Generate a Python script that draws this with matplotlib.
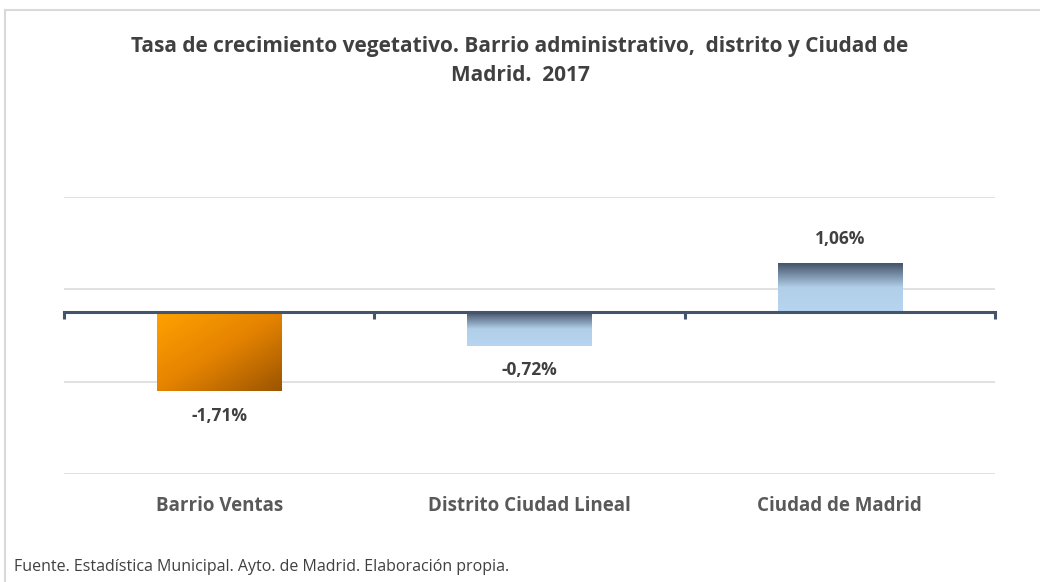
import numpy as np
import matplotlib
matplotlib.use('Agg')
import matplotlib.pyplot as plt
from matplotlib.colors import LinearSegmentedColormap
from matplotlib.lines import Line2D

# data
categories = ['Barrio Ventas', 'Distrito Ciudad Lineal', 'Ciudad de Madrid']
values = [-1.71, -0.72, 1.06]
grid_levels = [-3.5, -1.5, 0.5, 2.5]

title = 'Tasa de crecimiento vegetativo. Barrio administrativo,  distrito y Ciudad de\nMadrid.  2017'
source = 'Fuente. Estadística Municipal. Ayto. de Madrid. Elaboración propia.'

plt.rcParams['font.family'] = ['Open Sans', 'DejaVu Sans']

orange_cmap = LinearSegmentedColormap.from_list('orange', ['#FFA200', '#E58300', '#9C5500'])
blue_cmap = LinearSegmentedColormap.from_list('blue', [(0, '#44546A'), (0.5, '#B2CFEA'), (1, '#B7D5F0')])

fig = plt.figure(figsize=(10.4, 5.82), dpi=100)
ax = fig.add_axes([64 / 1040, 1 - 474 / 582, 931 / 1040, 277 / 582])

x = np.arange(len(categories))
bars = ax.bar(x, values, width=0.4, color='none', edgecolor='none', zorder=2)

# gradient fills
for i, patch in enumerate(bars.patches):
    x0 = patch.get_x()
    x1 = x0 + patch.get_width()
    y0 = min(patch.get_y(), patch.get_y() + patch.get_height())
    y1 = max(patch.get_y(), patch.get_y() + patch.get_height())
    if i == 0:
        u, v = np.meshgrid(np.linspace(0, 1, 100), np.linspace(0, 1, 100))
        img = (u + v) / 2
        cmap = orange_cmap
    else:
        img = np.linspace(0, 1, 100)[:, None] * np.ones((1, 10))
        cmap = blue_cmap
    im = ax.imshow(img, cmap=cmap, extent=(x0, x1, y0, y1), origin='upper',
                   aspect='auto', vmin=0, vmax=1, zorder=2)
    im.set_clip_path(patch)

labels = [('%.2f%%' % v).replace('.', ',') for v in values]
ax.bar_label(bars, labels=labels, padding=11, fontsize=12.5, fontweight='bold', color='#404040')

ax.set_xlim(-0.5, len(categories) - 0.5)
ax.set_ylim(grid_levels[0], grid_levels[-1])

# gridlines
ax.set_yticks(grid_levels)
ax.yaxis.grid(True, color='#DCDCDC', lw=1.2)
ax.tick_params(axis='y', length=0, labelleft=False)
ax.set_axisbelow(True)

for s in ['top', 'right', 'left']:
    ax.spines[s].set_visible(False)
ax.spines['bottom'].set_position(('data', 0))
ax.spines['bottom'].set_color('#44546A')
ax.spines['bottom'].set_linewidth(2.2)
ax.spines['bottom'].set_zorder(3)
ax.set_xticks(np.arange(len(categories) + 1) - 0.5)
ax.tick_params(axis='x', direction='out', length=5, width=2.2, color='#44546A', labelbottom=False)

sec = ax.secondary_xaxis('bottom')
sec.set_xticks(x)
sec.set_xticklabels(categories, fontsize=13.5, fontweight='bold', color='#595959')
sec.tick_params(length=0, pad=16)
sec.spines['bottom'].set_visible(False)

fig.text(0.5, 1 - 61 / 582, title, ha='center', va='center', fontsize=15,
         fontweight='bold', color='#404040', linespacing=1.55)
fig.text(14 / 1040, 1 - 567 / 582, source, ha='left', va='center', fontsize=11.5, color='#404040')

# chart frame
fig.add_artist(Line2D([4.5 / 1040, 4.5 / 1040], [0, 1 - 10 / 582], color='#D9D9D9', lw=1.5))
fig.add_artist(Line2D([4.5 / 1040, 1], [1 - 10 / 582, 1 - 10 / 582], color='#D9D9D9', lw=1.5))

fig.savefig('out.png', dpi=100)
